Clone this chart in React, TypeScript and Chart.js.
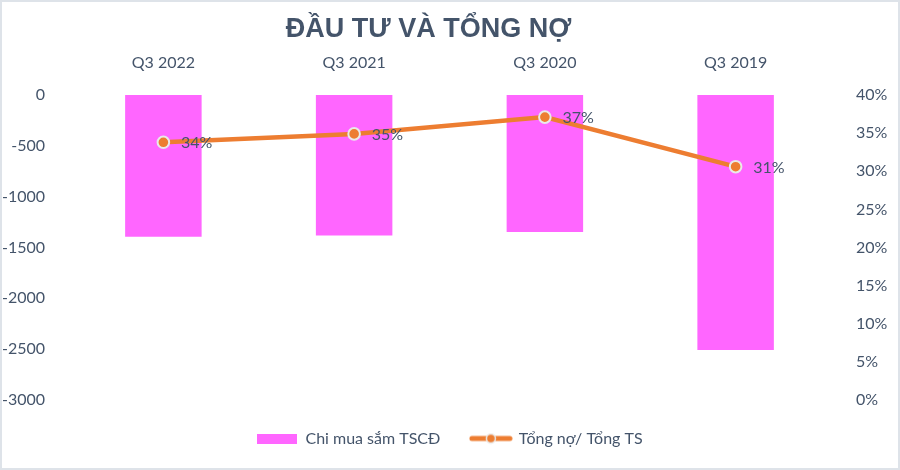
import React, { useEffect, useRef } from "react";
import { Chart, registerables } from "chart.js";

Chart.register(...registerables);

const chartTitle = "ĐẦU TƯ VÀ TỔNG NỢ";
const categories = ["Q3 2022", "Q3 2021", "Q3 2020", "Q3 2019"];
const capexLabel = "Chi mua sắm TSCĐ";
const capexValues = [-1394, -1383, -1347, -2508];
const debtLabel = "Tổng nợ/ Tổng TS";
const debtRatioValues = [0.338, 0.349, 0.371, 0.306];
const leftAxisRange = [-3000, 0];
const leftAxisStep = 500;
const rightAxisRange = [0, 0.4];
const rightAxisStep = 0.05;

const TEXT = "#44546A";
const BAR = "#FF66FF";
const LINE = "#ED7D31";
const MARKER_BORDER = "#E9E9E9";
const FONT = 'Lato, "Open Sans", sans-serif';

export default function App() {
  const ref = useRef<HTMLCanvasElement | null>(null);

  useEffect(() => {
    document.body.style.margin = "0";
    const canvas = ref.current;
    if (!canvas) return;

    const barImg = document.createElement("canvas");
    barImg.width = 40;
    barImg.height = 10;
    {
      const c = barImg.getContext("2d")!;
      c.fillStyle = BAR;
      c.fillRect(0, 0, 40, 10);
    }
    const lineImg = document.createElement("canvas");
    lineImg.width = 44;
    lineImg.height = 12;
    {
      const c = lineImg.getContext("2d")!;
      c.strokeStyle = LINE;
      c.lineWidth = 5;
      c.lineCap = "round";
      c.beginPath();
      c.moveTo(3, 6);
      c.lineTo(41, 6);
      c.stroke();
      c.beginPath();
      c.arc(22, 6, 4.5, 0, Math.PI * 2);
      c.fillStyle = LINE;
      c.fill();
      c.lineWidth = 1.5;
      c.strokeStyle = MARKER_BORDER;
      c.stroke();
    }

    const titlePlugin = {
      id: "offsetTitle",
      afterDraw(chart: any) {
        const ctx = chart.ctx;
        ctx.save();
        ctx.font = 'bold 27px "Liberation Sans", Arial, sans-serif';
        ctx.fillStyle = TEXT;
        ctx.textAlign = "center";
        ctx.textBaseline = "alphabetic";
        ctx.fillText(chartTitle, chart.width / 2 - 21.5, 35);
        ctx.restore();
      },
    };

    const valueLabelPlugin = {
      id: "valueLabels",
      afterDatasetsDraw(chart: any) {
        const ctx = chart.ctx;
        const meta = chart.getDatasetMeta(1);
        ctx.save();
        ctx.font = `16px ${FONT}`;
        ctx.fillStyle = TEXT;
        ctx.textAlign = "left";
        ctx.textBaseline = "middle";
        meta.data.forEach((pt: any, i: number) => {
          const v = chart.data.datasets[1].data[i] as number;
          ctx.fillText(Math.round(v * 100) + "%", pt.x + 17.5, pt.y + 1);
        });
        ctx.restore();
      },
    };

    const chart = new Chart(canvas, {
      type: "bar",
      data: {
        labels: categories,
        datasets: [
          {
            type: "bar",
            label: capexLabel,
            data: capexValues,
            backgroundColor: BAR,
            borderWidth: 0,
            barPercentage: 1,
            categoryPercentage: 0.401,
            yAxisID: "y",
            order: 2,
          },
          {
            type: "line",
            label: debtLabel,
            data: debtRatioValues,
            borderColor: LINE,
            backgroundColor: LINE,
            borderWidth: 4.5,
            pointRadius: 5.8,
            pointBackgroundColor: LINE,
            pointBorderColor: MARKER_BORDER,
            pointBorderWidth: 2,
            tension: 0,
            yAxisID: "y1",
            order: 1,
          } as any,
        ],
      },
      options: {
        responsive: false,
        maintainAspectRatio: false,
        animation: false,
        layout: { padding: { top: 53, bottom: 11.5, left: 0, right: 0 } },
        scales: {
          x: {
            position: "top",
            grid: { display: false },
            border: { display: false },
            ticks: {
              color: TEXT,
              font: { family: FONT, size: 16 },
              padding: 14.4,
              maxRotation: 0,
            },
            afterFit: (s: any) => {
              s.height = 40;
            },
          },
          y: {
            position: "left",
            min: leftAxisRange[0],
            max: leftAxisRange[1],
            grid: { display: false },
            border: { display: false },
            ticks: {
              stepSize: leftAxisStep,
              color: TEXT,
              font: { family: FONT, size: 16 },
              padding: 15,
              callback: (v: any) => String(v),
            },
            afterFit: (s: any) => {
              s.width = 66;
            },
          },
          y1: {
            position: "right",
            min: rightAxisRange[0],
            max: rightAxisRange[1],
            grid: { display: false },
            border: { display: false },
            ticks: {
              stepSize: rightAxisStep,
              color: TEXT,
              font: { family: FONT, size: 16 },
              padding: 17,
              callback: (v: any) => Math.round(Number(v) * 100) + "%",
            },
            afterFit: (s: any) => {
              s.width = 67;
            },
          },
        },
        plugins: {
          title: { display: false },
          tooltip: { enabled: false },
          legend: {
            display: true,
            position: "bottom",
            labels: {
              usePointStyle: true,
              pointStyleWidth: 40,
              padding: 30.5,
              color: TEXT,
              font: { family: FONT, size: 16 },
              generateLabels: () => [
                {
                  text: capexLabel,
                  pointStyle: barImg as any,
                  fillStyle: BAR,
                  strokeStyle: BAR,
                  lineWidth: 0,
                  hidden: false,
                  datasetIndex: 0,
                  fontColor: TEXT,
                },
                {
                  text: debtLabel,
                  pointStyle: lineImg as any,
                  fillStyle: LINE,
                  strokeStyle: LINE,
                  lineWidth: 0,
                  hidden: false,
                  datasetIndex: 1,
                  fontColor: TEXT,
                },
              ],
            },
          },
        },
      },
      plugins: [titlePlugin, valueLabelPlugin],
    });

    return () => chart.destroy();
  }, []);

  return (
    <div
      style={{
        position: "absolute",
        left: 0,
        top: 0,
        width: 900,
        height: 470,
        boxSizing: "border-box",
        border: "2px solid #DEE3E9",
        background: "#FFFFFF",
      }}
    >
      <canvas ref={ref} width={896} height={466} style={{ display: "block", width: 896, height: 466 }} />
    </div>
  );
}
